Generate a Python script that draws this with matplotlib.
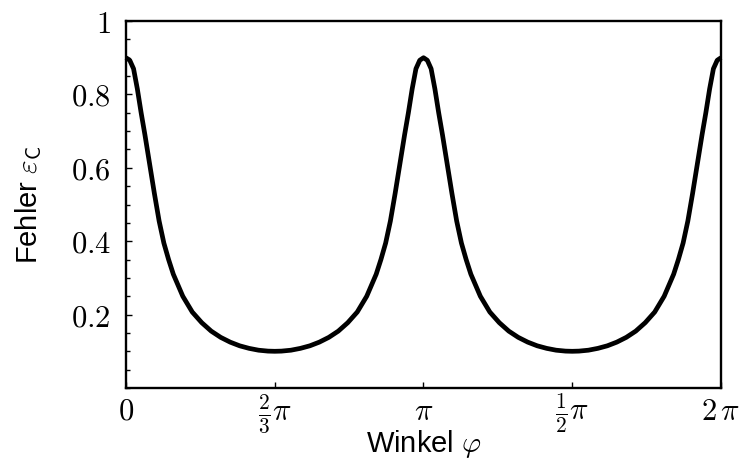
import matplotlib
matplotlib.use("Agg")
import matplotlib.pyplot as plt
from matplotlib.ticker import FixedLocator, MultipleLocator

plt.rcParams["mathtext.fontset"] = "cm"
plt.rcParams["font.family"] = ["Liberation Sans", "DejaVu Sans"]

# angle phi in radians
phi = [
    0.000, 0.040, 0.080, 0.120, 0.160, 0.200, 0.250, 0.300, 0.350, 0.400,
    0.450, 0.500, 0.550, 0.600, 0.700, 0.800, 0.900, 1.000, 1.100, 1.200,
    1.300, 1.400, 1.500, 1.571, 1.642, 1.742, 1.842, 1.942, 2.042, 2.142,
    2.242, 2.342, 2.442, 2.542, 2.592, 2.642, 2.692, 2.742, 2.792, 2.842,
    2.892, 2.942, 2.982, 3.022, 3.062, 3.102, 3.142,
    3.182, 3.222, 3.262, 3.302, 3.342, 3.392, 3.442, 3.492, 3.542, 3.592,
    3.642, 3.692, 3.742, 3.842, 3.942, 4.042, 4.142, 4.242, 4.342, 4.442,
    4.542, 4.642, 4.712, 4.783, 4.883, 4.983, 5.083, 5.183, 5.283, 5.383,
    5.483, 5.583, 5.683, 5.733, 5.783, 5.833, 5.883, 5.933, 5.983, 6.033,
    6.083, 6.123, 6.163, 6.203, 6.243, 6.283,
]

# error epsilon_C
eps = [
    0.900, 0.893, 0.870, 0.815, 0.750, 0.690, 0.610, 0.530, 0.455, 0.395,
    0.350, 0.310, 0.280, 0.250, 0.207, 0.178, 0.155, 0.138, 0.125, 0.115,
    0.108, 0.103, 0.1005, 0.100, 0.1005, 0.103, 0.108, 0.115, 0.125, 0.138,
    0.155, 0.178, 0.207, 0.250, 0.280, 0.310, 0.350, 0.395, 0.455, 0.530,
    0.610, 0.690, 0.750, 0.815, 0.870, 0.893, 0.900,
    0.893, 0.870, 0.815, 0.750, 0.690, 0.610, 0.530, 0.455, 0.395, 0.350,
    0.310, 0.280, 0.250, 0.207, 0.178, 0.155, 0.138, 0.125, 0.115, 0.108,
    0.103, 0.1005, 0.100, 0.1005, 0.103, 0.108, 0.115, 0.125, 0.138, 0.155,
    0.178, 0.207, 0.250, 0.280, 0.310, 0.350, 0.395, 0.455, 0.530, 0.610,
    0.690, 0.750, 0.815, 0.870, 0.893, 0.900,
]

x_ticks = [0.0, 1.5708, 3.1416, 4.7124, 6.2832]
x_tick_labels = [r"$0$", r"$\frac{2}{3}\pi$", r"$\pi$", r"$\frac{1}{2}\pi$", r"$2\,\pi$"]
y_ticks = [0.2, 0.4, 0.6, 0.8, 1.0]
y_tick_labels = [r"$0.2$", r"$0.4$", r"$0.6$", r"$0.8$", r"$1$"]

fig = plt.figure(figsize=(7.45, 4.63), dpi=100)
ax = fig.add_axes([0.1691, 0.1620, 0.7987, 0.7926])

ax.plot(phi, eps, color="black", lw=3.4, solid_joinstyle="round", solid_capstyle="butt",
        clip_on=False, zorder=3)

ax.set_xlim(0, 6.2832)
ax.set_ylim(0, 1)

for s in ax.spines.values():
    s.set_linewidth(1.7)

ax.xaxis.set_major_locator(FixedLocator(x_ticks))
ax.set_xticklabels(x_tick_labels)
ax.yaxis.set_major_locator(FixedLocator(y_ticks))
ax.set_yticklabels(y_tick_labels)
ax.yaxis.set_minor_locator(MultipleLocator(0.05))

ax.tick_params(axis="both", which="both", direction="in", top=False, right=False,
               labelsize=22, width=1.0)
ax.tick_params(axis="y", which="major", length=4, pad=11)
ax.tick_params(axis="y", which="minor", length=3)
ax.tick_params(axis="x", which="major", length=4, pad=23)
for lbl in ax.get_xticklabels():
    lbl.set_verticalalignment("baseline")

ax.set_xlabel(r"Winkel $\varphi$", fontsize=21)
ax.xaxis.set_label_coords(0.5, -0.108)
ax.set_ylabel(r"Fehler $\varepsilon_{\mathsf{C}}$", fontsize=21)
ax.yaxis.set_label_coords(-0.138, 0.5)

fig.savefig("out.png", dpi=100)
